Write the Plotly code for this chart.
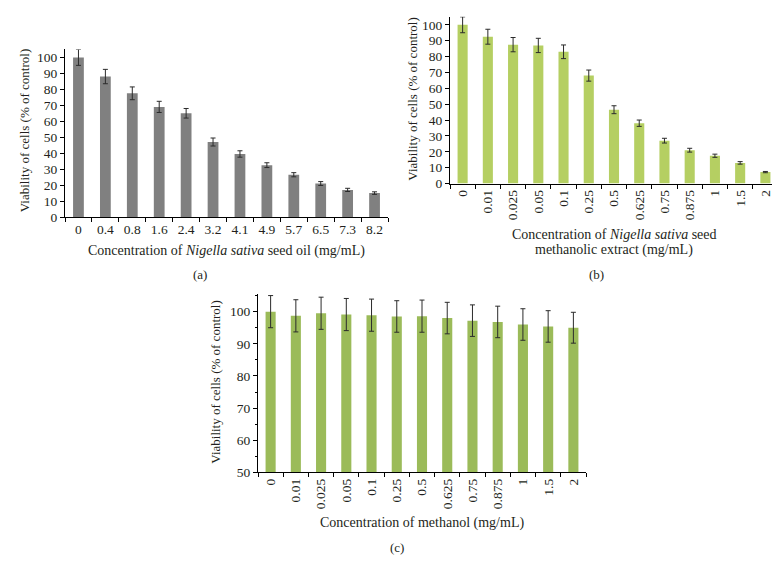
import plotly.graph_objects as go

# ---- data ----
cats_a = ["0", "0.4", "0.8", "1.6", "2.4", "3.2", "4.1", "4.9", "5.7", "6.5", "7.3", "8.2"]
vals_a = [100, 88, 77.5, 69, 65, 47, 39.5, 32.5, 26.5, 21, 17, 15]
err_a = [5, 4.5, 4, 3.5, 3, 2.5, 2, 1.5, 1.3, 1.2, 1, 0.8]

cats_b = ["0", "0.01", "0.025", "0.05", "0.1", "0.25", "0.5", "0.625", "0.75", "0.875", "1", "1.5", "2"]
vals_b = [100, 92.5, 87.5, 87, 83, 68, 46.5, 38, 27, 21, 17.5, 13, 7.2]
err_b = [5, 4.7, 4.5, 4.5, 4.3, 3.5, 2.5, 2, 1.5, 1.2, 1, 0.8, 0.4]

cats_c = ["0", "0.01", "0.025", "0.05", "0.1", "0.25", "0.5", "0.625", "0.75", "0.875", "1", "1.5", "2"]
vals_c = [100, 98.7, 99.5, 99.1, 98.9, 98.5, 98.6, 98, 97.2, 96.8, 96, 95.4, 95]
err_c = [5, 5, 5, 5, 5, 4.9, 5, 4.9, 4.9, 4.9, 4.9, 4.9, 4.8]

FONT = "Liberation Serif"
TXT = "#231F20"
W, H = 780, 574

fig = go.Figure()

def add_bars(cats, vals, errs, color, xa, ya):
    fig.add_trace(go.Bar(
        x=cats, y=vals, marker=dict(color=color, line=dict(width=0)),
        error_y=dict(type="data", array=errs, visible=True, color="#2b2b2b",
                     thickness=1, width=2.5),
        xaxis=xa, yaxis=ya, showlegend=False))

add_bars(cats_a, vals_a, err_a, "#808080", "x", "y")
add_bars(cats_b, vals_b, err_b, "#B5CF62", "x2", "y2")
add_bars(cats_c, vals_c, err_c, "#9BBB59", "x3", "y3")

def px_x(p):
    return p / W

def px_y(p):
    return 1 - p / H

axis_common = dict(showline=True, linecolor="#000", linewidth=1, ticks="outside",
                   ticklen=4, tickcolor="#000", showgrid=False, zeroline=False,
                   tickfont=dict(family=FONT, size=13.5, color=TXT))

fig.update_layout(
    width=W, height=H, margin=dict(l=0, r=0, t=0, b=0),
    paper_bgcolor="white", plot_bgcolor="white", bargap=0.6,
    font=dict(family=FONT, color=TXT),
    xaxis=dict(domain=[px_x(57), px_x(380)], anchor="y", tickson="boundaries",
               **axis_common),
    yaxis=dict(domain=[px_y(212), px_y(42)], anchor="x", range=[0, 105],
               tickvals=list(range(0, 101, 10)), **axis_common),
    xaxis2=dict(domain=[px_x(442), px_x(770)], anchor="y2", tickson="boundaries",
                tickangle=-90, **axis_common),
    yaxis2=dict(domain=[px_y(178), px_y(9)], anchor="x2", range=[0, 105],
                tickvals=list(range(0, 101, 10)), **axis_common),
    xaxis3=dict(domain=[px_x(250), px_x(578)], anchor="y3", tickson="boundaries",
                tickangle=-90, **axis_common),
    yaxis3=dict(domain=[px_y(471), px_y(290)], anchor="x3", range=[50, 105.5],
                tickvals=list(range(50, 101, 10)),
                minor=dict(dtick=5, tick0=50, ticks="outside", ticklen=2, tickcolor="#000"),
                **axis_common),
)

def ann(x, y, text, size=14, angle=0):
    fig.add_annotation(x=px_x(x), y=px_y(y), xref="paper", yref="paper", text=text,
                       showarrow=False, textangle=angle, xanchor="center", yanchor="middle",
                       font=dict(family=FONT, size=size, color=TXT))

ytitle = "Viability of cells (% of control)"
ann(16, 125, ytitle, size=13, angle=-90)
ann(405, 93, ytitle, size=13, angle=-90)
ann(208, 380, ytitle, size=13, angle=-90)

ann(218, 246, "Concentration of <i>Nigella sativa</i> seed oil (mg/mL)")
ann(606, 230, "Concentration of <i>Nigella sativa</i> seed")
ann(606, 245, "methanolic extract (mg/mL)")
ann(414, 522, "Concentration of methanol (mg/mL)")

ann(192, 270, "(a)", size=13)
ann(588, 270, "(b)", size=13)
ann(389, 547, "(c)", size=13)

fig.write_html("out.html")
